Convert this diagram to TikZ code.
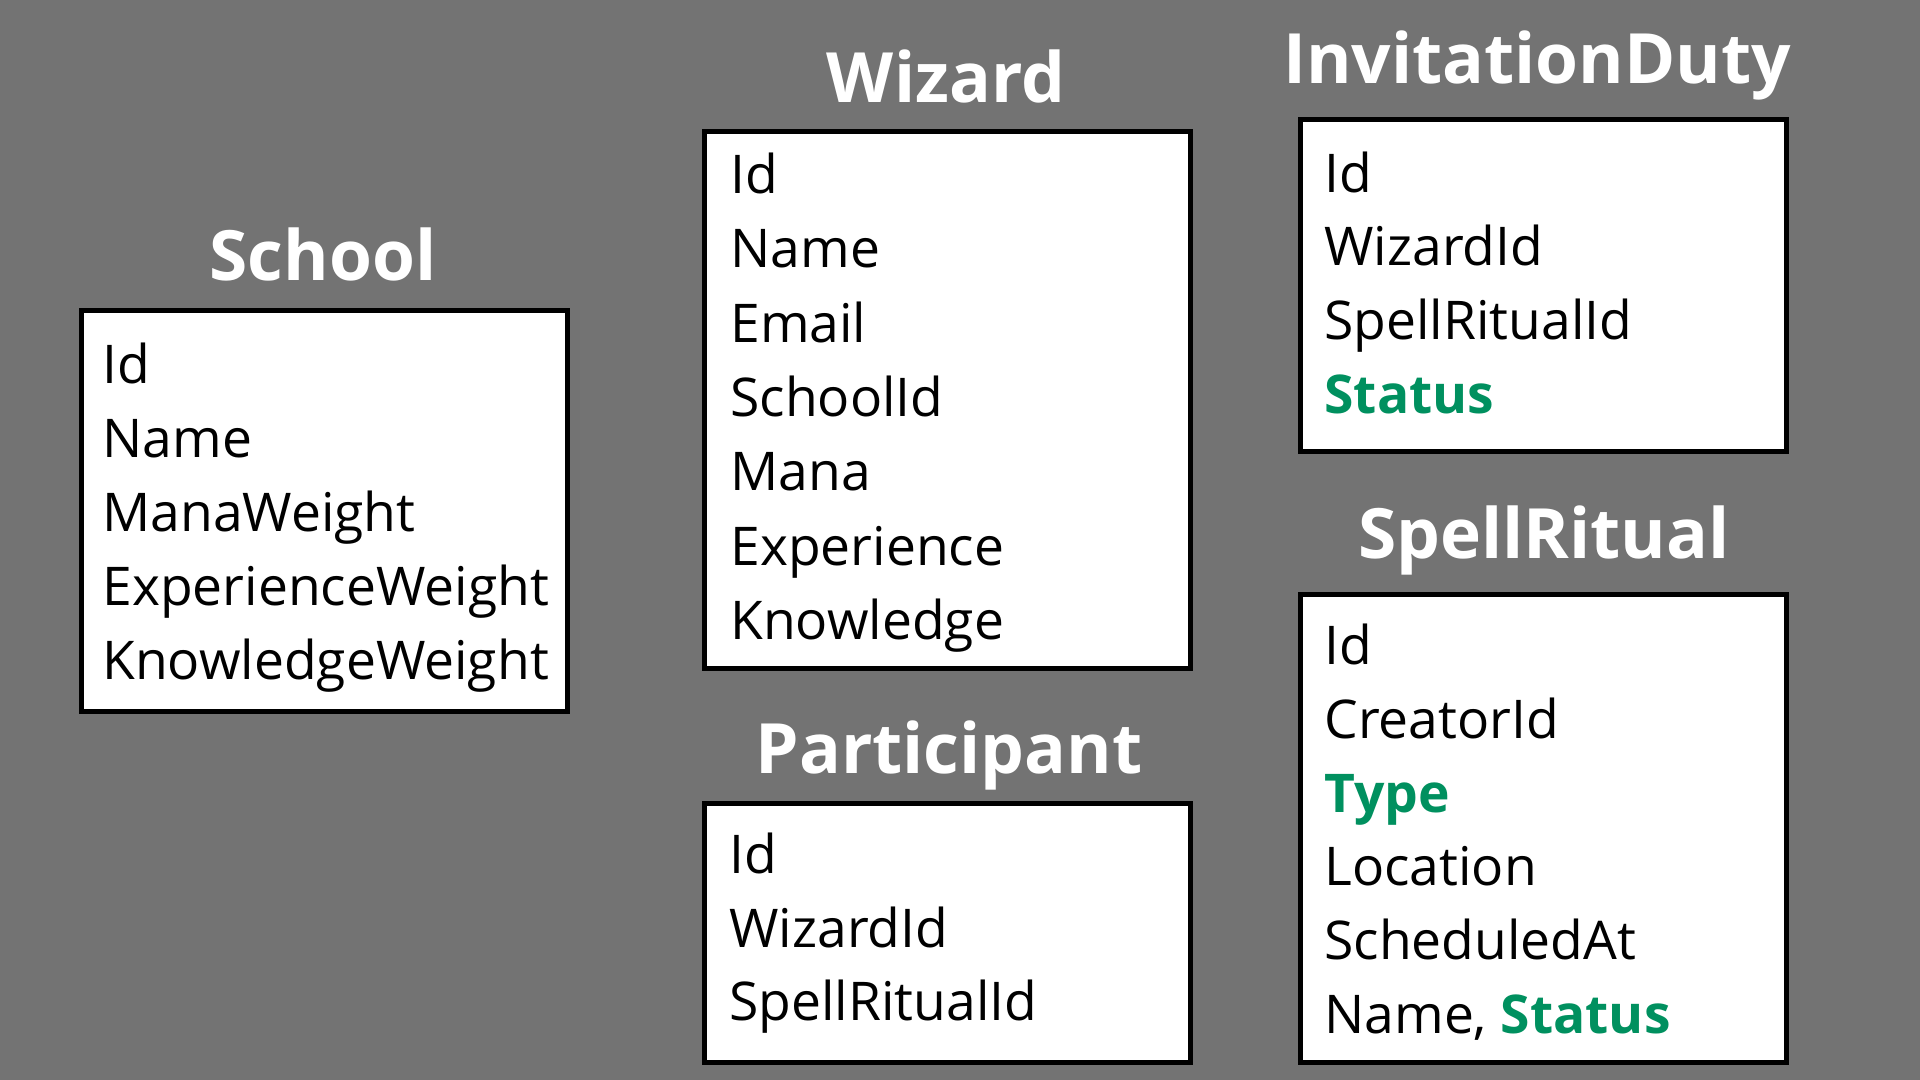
\documentclass[tikz,border=0pt]{standalone}
\usepackage{fontspec}
\setmainfont{Open Sans}

\definecolor{bggray}{HTML}{737373}
\definecolor{enumgreen}{HTML}{00905F}
\newcommand{\enumfield}[1]{\textbf{\color{enumgreen}#1}}

\tikzset{
  tabletitle/.style={anchor=base, text=white, inner sep=0pt,
    font=\fontsize{34.7}{40}\selectfont\bfseries},
  tablebox/.style={draw=black, line width=2.5pt, fill=white,
    anchor=north west, inner sep=0pt, minimum width=243pt},
  field/.style={anchor=base west, inner sep=0pt,
    font=\fontsize{26.7}{32}\selectfont},
}

\begin{document}
\begin{tikzpicture}[x=0.5pt, y=-0.5pt]
    \fill[bggray] (0,0) rectangle (1920,1080);

    % School
    \node[tabletitle] (school-title) at (323,281) {School};
    \node[tablebox, minimum height=200pt] (school) at (79,308.5) {};
    \foreach \f [count=\i from 0] in {Id, Name, ManaWeight, ExperienceWeight, KnowledgeWeight}
        \node[field] (school-\i) at (102,383+74*\i) {\f};

    % Wizard
    \node[tabletitle] (wizard-title) at (946,103) {Wizard};
    \node[tablebox, minimum height=268pt] (wizard) at (702,129.5) {};
    \foreach \f [count=\i from 0] in {Id, Name, Email, SchoolId, Mana, Experience, Knowledge}
        \node[field] (wizard-\i) at (730,193.5+74.3*\i) {\f};

    % Participant
    \node[tabletitle] (participant-title) at (949,773) {Participant};
    \node[tablebox, minimum height=129.5pt] (participant) at (702,800.5) {};
    \foreach \f [count=\i from 0] in {Id, WizardId, SpellRitualId}
        \node[field] (participant-\i) at (729,873.5+73.5*\i) {\f};

    % InvitationDuty
    \node[tabletitle] (duty-title) at (1537,84) {InvitationDuty};
    \node[tablebox, minimum height=165.5pt] (duty) at (1298,117.5) {};
    \foreach \f [count=\i from 0] in {Id, WizardId, SpellRitualId, \enumfield{Status}}
        \node[field] (duty-\i) at (1324,192.5+73.5*\i) {\f};

    % SpellRitual
    \node[tabletitle] (ritual-title) at (1544,558) {SpellRitual};
    \node[tablebox, minimum height=234pt] (ritual) at (1298,591.5) {};
    \foreach \f [count=\i from 0] in {Id, CreatorId, \enumfield{Type}, Location, ScheduledAt, {Name, \enumfield{Status}}}
        \node[field] (ritual-\i) at (1324,664.5+73.8*\i) {\f};
\end{tikzpicture}
\end{document}
